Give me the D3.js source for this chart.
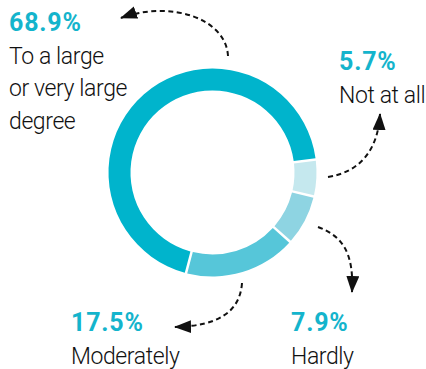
<!DOCTYPE html>
<html>
<head>
<meta charset="utf-8">
<script src="https://cdn.jsdelivr.net/npm/d3@7"></script>
<style>
  html, body { margin: 0; padding: 0; background: #fff; }
  svg { display: block; }
</style>
</head>
<body>
<svg id="chart" width="426" height="369"></svg>
<script>
// Response shares, listed clockwise starting just below three o'clock
const categories = ["Not at all", "Hardly", "Moderately", "To a large or very large degree"];
const shares = [5.7, 7.9, 17.5, 68.9];
const sliceColors = ["#c5e8ee", "#8ed4e2", "#56c6d9", "#00b4cc"];

// Label text, one entry per category (multi-line where the label wraps)
const labelLines = [
  ["Not at all"],
  ["Hardly"],
  ["Moderately"],
  ["To a large", "or very large", "degree"]
];

// Layout
const W = 426, H = 369;
const cx = 212.5, cy = 172.5;
const outerR = 104, innerR = 82;
const startDeg = 82.8;

// Baseline of each percentage line, left aligned
const labelPos = [
  { x: 339, y: 70 },
  { x: 291, y: 331 },
  { x: 71, y: 331 },
  { x: 9, y: 31 }
];
const lineGap = 32.5;

// Dashed connectors: from the ring out to each label
const connectors = [
  "M328,177 C360,172 378,150 380,114",
  "M318,227 C342,236 354,252 352,292",
  "M242,283 C240,312 218,326 175,327",
  "M228,56 C226,18 170,0 121,18"
];

const svg = d3.select("#chart");

const pie = d3.pie()
  .sort(null)
  .value(d => d)
  .startAngle(startDeg * Math.PI / 180)
  .endAngle(startDeg * Math.PI / 180 + 2 * Math.PI);

const arc = d3.arc()
  .innerRadius(innerR)
  .outerRadius(outerR)
  .padAngle(0.019);

svg.append("g")
  .attr("transform", `translate(${cx},${cy})`)
  .selectAll("path")
  .data(pie(shares))
  .join("path")
  .attr("d", arc)
  .attr("fill", (d, i) => sliceColors[i]);

// Arrowhead marker
svg.append("defs").append("marker")
  .attr("id", "head")
  .attr("markerUnits", "userSpaceOnUse")
  .attr("viewBox", "0 0 17 13")
  .attr("refX", 16)
  .attr("refY", 6.5)
  .attr("markerWidth", 17)
  .attr("markerHeight", 13)
  .attr("orient", "auto")
  .append("path")
  .attr("d", "M0,0 L17,6.5 L0,13 Z")
  .attr("fill", "#111");

svg.append("g")
  .selectAll("path")
  .data(connectors)
  .join("path")
  .attr("d", d => d)
  .attr("fill", "none")
  .attr("stroke", "#111")
  .attr("stroke-width", 2)
  .attr("stroke-dasharray", "5,3.5")
  .attr("marker-end", "url(#head)");

// Labels: percentage in bold teal, category name below
const fmt = d3.format(".1f");
const labels = svg.append("g")
  .selectAll("g")
  .data(categories)
  .join("g")
  .attr("transform", (d, i) => `translate(${labelPos[i].x},${labelPos[i].y})`);

labels.append("text")
  .attr("font-family", "Roboto, 'Noto Sans', sans-serif")
  .attr("font-weight", 700)
  .attr("font-size", 25)
  .attr("letter-spacing", 0.8)
  .attr("fill", "#14b4cc")
  .text((d, i) => fmt(shares[i]) + "%");

labels.each(function (d, i) {
  const g = d3.select(this);
  labelLines[i].forEach((line, j) => {
    g.append("text")
      .attr("y", lineGap * (j + 1))
      .attr("font-family", "Roboto, 'Noto Sans', sans-serif")
      .attr("font-weight", 300)
      .attr("font-size", 23)
      .attr("letter-spacing", -0.4)
      .attr("fill", "#111")
      .text(line);
  });
});
</script>
</body>
</html>
